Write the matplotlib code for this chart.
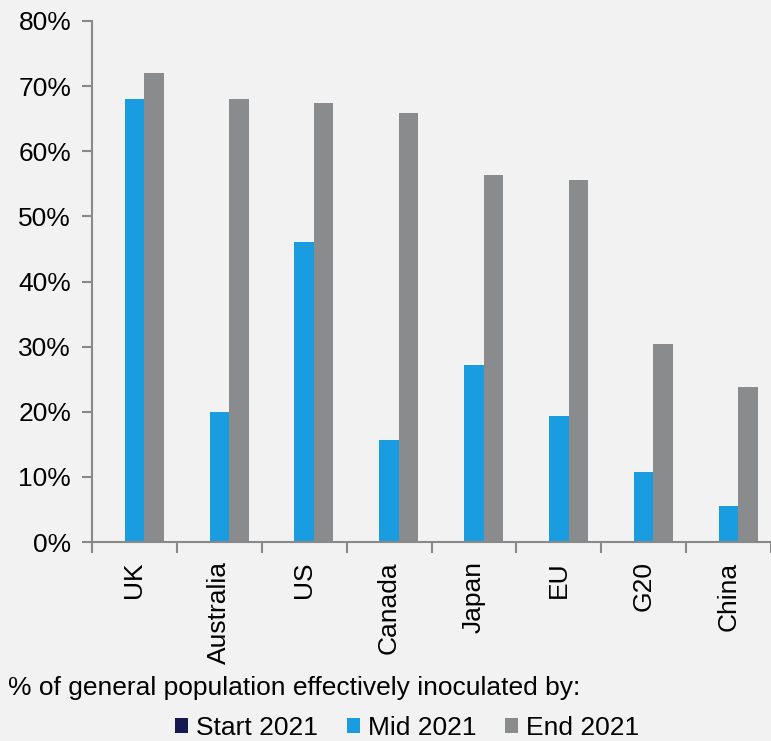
import numpy as np
import matplotlib.pyplot as plt
from matplotlib.patches import Patch

plt.rcParams['font.family'] = ['Liberation Sans', 'DejaVu Sans']

# data
countries = ['UK', 'Australia', 'US', 'Canada', 'Japan', 'EU', 'G20', 'China']
start_2021 = [0, 0, 0, 0, 0, 0, 0, 0]
mid_2021 = [68.0, 20.0, 46.1, 15.6, 27.2, 19.3, 10.7, 5.5]
end_2021 = [72.0, 68.0, 67.4, 65.9, 56.3, 55.6, 30.4, 23.8]
series_names = ['Start 2021', 'Mid 2021', 'End 2021']
colors = ['#15194f', '#1a9de0', '#8a8b8d']

BG = '#f2f2f2'
AXIS = '#898989'

fig = plt.figure(figsize=(7.71, 7.41), dpi=100, facecolor=BG)
ax = fig.add_axes([92 / 771, 199 / 741, 679 / 771, 521 / 741], facecolor=BG)

x = np.arange(len(countries))
w = 0.23
for k, vals in enumerate([start_2021, mid_2021, end_2021]):
    ax.bar(x + (k - 1) * w, vals, width=w, color=colors[k], zorder=2)

ax.set_ylim(0, 80)
ax.set_xlim(-0.5, 7.45)
ax.set_yticks(np.arange(0, 81, 10))
ax.set_yticklabels([f'{v}%' for v in range(0, 81, 10)])

ax.set_xticks(x)
ax.set_xticklabels(countries, rotation=90)
ax.set_xticks(np.arange(-0.5, 8, 1), minor=True)
ax.tick_params(axis='x', which='major', length=0, labelsize=19, pad=14)
ax.tick_params(axis='x', which='minor', length=8, width=1.5, color=AXIS)
ax.tick_params(axis='y', length=7, width=1.5, color=AXIS, labelsize=19, pad=8)

for s in ['top', 'right']:
    ax.spines[s].set_visible(False)
for s in ['left', 'bottom']:
    ax.spines[s].set_color(AXIS)
    ax.spines[s].set_linewidth(1.5)

fig.text(8 / 771, 1 - 688 / 741, '% of general population effectively inoculated by:',
         fontsize=19, va='center', ha='left')

handles = [Patch(facecolor=c, label=n) for c, n in zip(colors, series_names)]
fig.legend(handles=handles, loc='center', bbox_to_anchor=(407 / 771, 1 - 728 / 741),
           ncol=3, frameon=False, fontsize=19, handlelength=0.5, handleheight=0.5,
           handletextpad=0.3, columnspacing=1.1)

fig.savefig('out.png', dpi=100, facecolor=BG)
